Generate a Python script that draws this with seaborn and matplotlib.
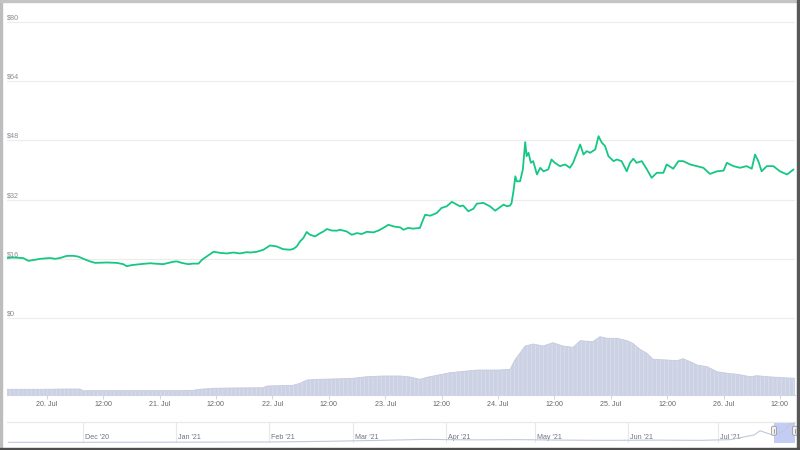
import numpy as np
import pandas as pd
import matplotlib
matplotlib.use("Agg")
import matplotlib.pyplot as plt
import matplotlib.dates as mdates
import matplotlib.transforms as mtransforms
from matplotlib.patches import Rectangle, FancyBboxPatch
from matplotlib.lines import Line2D
import seaborn as sns

# ---------------- data ----------------
# hours since 2021-07-20 00:00
price_hours = [-8.5, -7.1, -5.0, -3.9, -2.85, -1.4, 0.7, 1.8, 2.8, 4.3,
               5.7, 6.7, 7.8, 9.2, 10.3, 12.8, 14.9, 16.3, 17.0, 18.1,
               19.9, 22.0, 23.4, 24.8, 26.9, 27.7, 28.7, 30.1, 31.2, 32.3,
               33.0, 34.0, 35.5, 36.9, 38.3, 39.7, 41.1, 42.6, 43.3, 44.7,
               46.1, 47.5, 48.9, 50.3, 51.8, 52.5, 53.2, 53.9, 54.6, 55.3,
               56.0, 57.1, 58.2, 58.9, 59.6, 60.6, 61.7, 62.4, 63.8, 64.9,
               66.0, 67.0, 68.1, 69.5, 70.6, 71.6, 72.7, 73.8, 75.2, 75.9,
               76.9, 78.0, 79.4, 79.8, 80.5, 81.6, 83.0, 84.0, 85.1, 86.2,
               86.9, 87.9, 88.6, 89.7, 90.8, 91.5, 92.9, 94.3, 95.4, 96.5,
               97.2, 97.9, 98.6, 98.9, 99.3, 99.7, 100.0, 100.7, 101.3, 101.8,
               102.1, 102.5, 103.0, 103.5, 104.3, 105.0, 105.7, 106.7, 107.4, 108.1,
               109.2, 110.3, 111.3, 112.0, 112.4, 113.5, 114.2, 114.9, 115.6, 116.7,
               117.4, 118.1, 118.8, 119.5, 120.6, 121.3, 122.3, 123.4, 124.1, 124.8,
               125.5, 126.6, 127.7, 128.7, 129.8, 131.2, 131.9, 133.3, 134.4, 135.4,
               136.9, 138.3, 139.7, 141.1, 142.6, 144.0, 144.7, 146.1, 147.5, 148.9,
               150.0, 150.7, 151.4, 152.1, 153.2, 154.6, 156.0, 157.5, 158.9]
price_usd = [16.2, 16.35, 16.2, 15.45, 15.65, 16.0, 16.2, 16.0, 16.2, 16.8,
             16.8, 16.6, 16.0, 15.3, 14.9, 15.0, 14.9, 14.55, 14.0, 14.3,
             14.55, 14.8, 14.65, 14.55, 15.2, 15.3, 14.9, 14.55, 14.7, 14.7,
             15.7, 16.6, 17.9, 17.6, 17.45, 17.7, 17.45, 17.8, 17.7, 17.9,
             18.45, 19.6, 19.35, 18.6, 18.45, 18.7, 19.35, 20.7, 21.6, 23.25,
             22.5, 22.05, 22.95, 23.4, 24.05, 23.65, 23.6, 23.85, 23.4, 22.5,
             22.95, 22.7, 23.3, 23.15, 23.65, 24.35, 25.2, 24.75, 24.5, 23.85,
             24.35, 24.15, 24.35, 25.7, 27.9, 27.65, 28.4, 29.75, 30.2, 31.4,
             30.9, 30.2, 30.4, 28.85, 29.55, 30.9, 31.1, 30.2, 29.0, 30.0,
             30.65, 30.2, 30.4, 31.1, 34.25, 38.3, 36.95, 36.95, 40.15, 47.55,
             43.75, 44.65, 41.95, 42.4, 38.8, 40.6, 39.65, 40.15, 42.85, 41.95,
             41.05, 41.5, 40.6, 41.95, 43.3, 46.9, 44.2, 45.1, 44.65, 45.55,
             49.15, 47.4, 46.45, 43.75, 42.4, 42.85, 42.4, 39.65, 41.95, 43.05,
             41.95, 42.4, 40.15, 37.9, 39.25, 39.25, 41.5, 40.35, 42.4, 42.4,
             41.5, 41.05, 40.6, 38.95, 39.65, 39.85, 41.95, 41.05, 40.6, 41.05,
             40.35, 44.2, 42.4, 39.65, 41.05, 41.05, 39.65, 38.8, 40.15]

vol_hours = [-8.45, -0.8, 4.3, 7.1, 7.7, 15.6, 29.0, 31.1, 32.6, 35.4,
             39.6, 46.0, 46.9, 52.4, 53.9, 55.4, 58.1, 60.9, 65.2, 68.1,
             71.6, 75.2, 77.3, 79.4, 80.9, 85.8, 91.6, 96.4, 98.6, 99.6,
             101.8, 103.5, 105.6, 107.7, 109.8, 112.0, 113.5, 116.2, 117.7, 119.2,
             121.3, 123.5, 124.7, 126.2, 127.7, 129.0, 131.9, 134.1, 135.4, 136.9,
             138.4, 140.5, 142.6, 144.8, 146.9, 149.7, 151.1, 153.3, 156.7, 159.2]
vol_musd = [5.7, 5.7, 6.0, 6.0, 4.3, 4.3, 4.3, 4.7, 5.7, 6.7,
            7.0, 7.3, 9.0, 9.7, 11.7, 15.0, 15.7, 16.0, 16.7, 18.3,
            19.0, 19.0, 18.0, 15.7, 17.7, 22.3, 25.0, 25.0, 25.7, 35.0,
            49.0, 51.0, 49.0, 52.3, 49.0, 47.7, 54.3, 53.3, 58.3, 56.7,
            56.7, 54.3, 51.7, 45.7, 41.7, 35.7, 35.0, 34.3, 36.3, 33.3,
            30.0, 28.3, 23.3, 21.7, 20.7, 18.3, 19.3, 18.3, 17.3, 16.7]

nav_dates = ["2020-11-06 00:00", "2020-12-01 00:00", "2021-01-01 00:00", "2021-02-01 00:00",
             "2021-02-20 00:00", "2021-03-10 00:00", "2021-03-25 00:00", "2021-04-10 00:00",
             "2021-04-25 00:00", "2021-05-10 00:00", "2021-05-25 00:00", "2021-06-10 00:00",
             "2021-06-25 00:00", "2021-07-05 00:00", "2021-07-10 00:00", "2021-07-13 00:00",
             "2021-07-15 00:00", "2021-07-17 00:00", "2021-07-19 00:00", "2021-07-21 00:00",
             "2021-07-23 00:00", "2021-07-24 00:00", "2021-07-25 00:00", "2021-07-26 15:00"]
nav_price = [0.5, 0.5, 0.8, 1.2, 2.5, 4.5, 6.5, 5.5, 6.0, 5.0,
             4.5, 5.0, 4.5, 6.0, 12.0, 15.5, 24.0, 20.0, 16.0, 18.0,
             24.0, 30.0, 38.0, 40.0]

price_ticks = [0, 16, 32, 48, 64, 80]
price_tick_labels = ["$0", "$16", "$32", "$48", "$64", "$80"]
nav_months = ["2020-12-01", "2021-01-01", "2021-02-01", "2021-03-01",
              "2021-04-01", "2021-05-01", "2021-06-01", "2021-07-01"]
nav_month_labels = ["Dec '20", "Jan '21", "Feb '21", "Mar '21",
                    "Apr '21", "May '21", "Jun '21", "Jul '21"]

# ---------------- style ----------------
sns.set_theme(style="white")
plt.rcParams['font.family'] = ['Liberation Sans', 'DejaVu Sans']
plt.rcParams['hatch.linewidth'] = 0.35
plt.rcParams['hatch.color'] = '#e1e5ef'

W, H = 800, 450
fig = plt.figure(figsize=(8, 4.5), dpi=100)
fig.patch.set_facecolor('white')


def box(x0, y0, x1, y1):
    return [x0 / W, 1 - y1 / H, (x1 - x0) / W, (y1 - y0) / H]


def dnum(s):
    return mdates.date2num(pd.Timestamp(s).to_pydatetime())


XMIN, XMAX = -8.45, 159.2
PX_PER_USD = 59.0 / 16.0

ax_p = fig.add_axes(box(7, 10, 795, 320))
ax_v = fig.add_axes(box(7, 333, 795, 395))
ax_n = fig.add_axes(box(7, 421.7, 795, 443.3))

# ---------------- price pane ----------------
df_p = pd.DataFrame({"hours": price_hours, "price": price_usd})
sns.lineplot(data=df_p, x="hours", y="price", ax=ax_p, color="#16c784",
             lw=1.3, estimator=None, zorder=3)
ax_p.set_xlim(XMIN, XMAX)
ax_p.set_ylim(-2 / PX_PER_USD, 80 + 12 / PX_PER_USD)
ax_p.set_yticks(price_ticks)
ax_p.set_xticks([])
ax_p.yaxis.grid(True, color="#ececec", lw=0.8, zorder=0)
ax_p.tick_params(left=False, labelleft=False, bottom=False)
ax_p.set_xlabel("")
ax_p.set_ylabel("")
for s in ax_p.spines.values():
    s.set_visible(False)
ylab_tr = mtransforms.offset_copy(ax_p.get_yaxis_transform(), fig=fig,
                                  x=0, y=4, units="dots")
for v, lab in zip(price_ticks, price_tick_labels):
    ax_p.text(0, v, lab, transform=ylab_tr, ha="left", va="center",
              fontsize=5.2, color="#8a8d96", zorder=1)

# ---------------- volume pane ----------------
df_v = pd.DataFrame({"hours": vol_hours, "volume": vol_musd})
ax_v.fill_between(df_v["hours"], df_v["volume"], facecolor="#ccd2e4",
                  edgecolor="#e1e5ef", hatch="||||", lw=0, zorder=1)
sns.lineplot(data=df_v, x="hours", y="volume", ax=ax_v, color="#c4cbdf",
             lw=0.6, estimator=None, zorder=2)
ax_v.set_xlim(XMIN, XMAX)
ax_v.set_ylim(0, 62)
xt = list(range(0, 157, 12))
xl = [f"{20 + h // 24}. Jul" if h % 24 == 0 else "12:00" for h in xt]
ax_v.set_xticks(xt)
ax_v.set_xticklabels(xl)
ax_v.set_yticks([])
ax_v.set_xlabel("")
ax_v.set_ylabel("")
for k, s in ax_v.spines.items():
    s.set_visible(k == "bottom")
ax_v.spines["bottom"].set_color("#ccd6eb")
ax_v.spines["bottom"].set_linewidth(0.8)
ax_v.tick_params(axis="x", bottom=True, length=3, width=0.7, color="#ccd6eb",
                 pad=1.6, labelsize=5.1, labelcolor="#666666")
ax_v.tick_params(left=False, labelleft=False)

# ---------------- navigator ----------------
nav_x = [dnum(d) for d in nav_dates]
df_n = pd.DataFrame({"date": nav_x, "price": nav_price})
sel0 = dnum("2021-07-19 15:30")
sel1 = dnum("2021-07-26 16:00")
ax_n.axvspan(sel0, sel1, color="#c3cdf4", lw=0, zorder=1)
sns.lineplot(data=df_n, x="date", y="price", ax=ax_n, color="#c0c8de",
             lw=0.8, estimator=None, zorder=3)
ax_n.set_xlim(dnum("2020-11-05 14:00"), dnum("2021-07-26 16:00"))
ax_n.set_ylim(-1.5, 42.7)
ax_n.set_xticks([])
ax_n.set_yticks([])
ax_n.set_xlabel("")
ax_n.set_ylabel("")
for k, s in ax_n.spines.items():
    s.set_visible(k == "top")
ax_n.spines["top"].set_color("#e8e8e8")
ax_n.spines["top"].set_linewidth(0.8)
mlab_tr = mtransforms.offset_copy(ax_n.get_xaxis_transform(), fig=fig,
                                  x=2, y=0, units="dots")
for m, lab in zip(nav_months, nav_month_labels):
    t = dnum(m)
    ax_n.axvline(t, color="#e8e8e8", lw=0.8, zorder=0)
    ax_n.text(t, 0.28, lab, transform=mlab_tr, ha="left", va="center",
              fontsize=5.1, color="#707584", zorder=2)

# navigator handles
fig.canvas.draw()
ident = mtransforms.IdentityTransform()
yc = ax_n.transAxes.transform((0, 0.58))[1]
for t in (sel0, sel1):
    xd = ax_n.transData.transform((t, 0))[0]
    hp = FancyBboxPatch((xd - 2.5, yc - 4.5), 5, 9,
                        boxstyle="round,pad=0,rounding_size=1.5",
                        fc="#f2f2f2", ec="#9a9a9a", lw=0.6,
                        transform=ident, zorder=10)
    fig.add_artist(hp)
    fig.add_artist(Line2D([xd, xd], [yc - 2, yc + 2], color="#777777",
                          lw=0.5, transform=ident, zorder=11))

# screenshot frame
fig.add_artist(Rectangle((0, 0), 2, H, color="#bdbdbd", transform=ident, zorder=20))
fig.add_artist(Rectangle((0, H - 1.5), W, 1.5, color="#c4c4c4", transform=ident, zorder=20))
fig.add_artist(Rectangle((W - 3, 0), 3, H, color="#585858", transform=ident, zorder=20))
fig.add_artist(Rectangle((0, 0), W, 2.5, color="#4e4e4e", transform=ident, zorder=20))

fig.savefig("out.png", dpi=100, facecolor="white")
